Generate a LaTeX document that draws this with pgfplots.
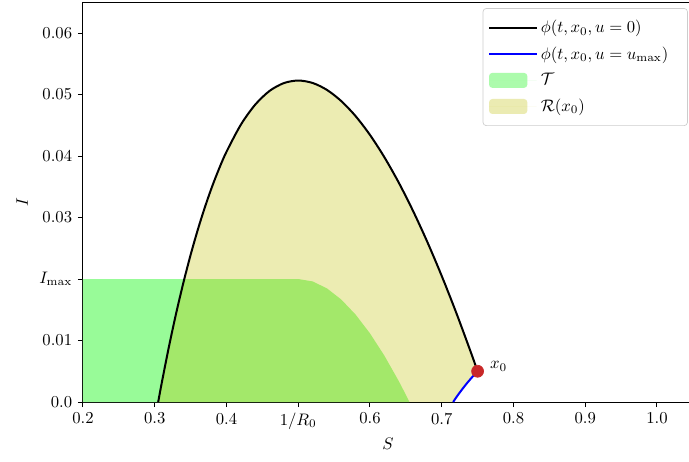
\documentclass[border=0pt]{standalone}
\usepackage{pgfplots}
\pgfplotsset{compat=1.18}
\definecolor{palegreen}{RGB}{152,251,152}
\definecolor{ycol}{RGB}{191,191,0}
\definecolor{dotred}{RGB}{200,40,40}
\pgfplotsset{
  lineleg/.style={legend image code/.code={\draw[##1] (0pt,0pt) -- (23pt,0pt); \path (0pt,0pt) -- (28.5pt,0pt);}},
  patchleg/.style={legend image code/.code={\fill[##1] (0pt,-4.5pt) rectangle (23pt,4.5pt); \path (0pt,0pt) -- (28.5pt,0pt);}},
}
\begin{document}
\begin{tikzpicture}
\useasboundingbox (-49.8pt,-35.4pt) rectangle (363.6pt,241.2pt);
\begin{axis}[
  at={(0pt,0pt)}, anchor=south west,
  scale only axis, width=365.9pt, height=239.85pt,
  xmin=0.2, xmax=1.05, ymin=0, ymax=0.065,
  axis line style={line width=0.6pt},
  tick align=outside, tick pos=left,
  major tick length=3pt,
  every tick/.style={black, line width=0.6pt},
  xtick={0.2,0.3,0.4,0.5,0.6,0.7,0.8,0.9,1.0},
  xticklabels={0.2,0.3,0.4,$1/R_0$,0.6,0.7,0.8,0.9,1.0},
  ytick={0,0.01,0.02,0.03,0.04,0.05,0.06},
  yticklabels={0.0,0.01,$I_{\max}$,0.03,0.04,0.05,0.06},
  scaled y ticks=false,
  xlabel={$S$}, ylabel={$I$},
  xlabel style={yshift=2pt},
  legend cell align=left,
  legend style={at={(1,1)}, anchor=north east, xshift=-3pt, yshift=-3.5pt,
    draw=black!20, rounded corners=2pt, fill=white, fill opacity=0.8, text opacity=1,
    row sep=3pt, inner xsep=3pt, inner ysep=5pt},
]
\addlegendimage{black, line width=1.2pt, lineleg}
\addlegendentry{$\phi(t,x_0,u=0)$}
\addlegendimage{blue, line width=1.2pt, lineleg}
\addlegendentry{$\phi(t,x_0,u=u_{\max})$\rule{6.5pt}{0pt}}
\addlegendimage{fill=palegreen, draw=none, patchleg}
\addlegendentry{$\mathcal{T}$}
\addlegendimage{fill=ycol, fill opacity=0.3, draw=none, patchleg}
\addlegendentry{$\mathcal{R}(x_0)$}

% target set T
\addplot[forget plot, fill=palegreen, draw=none] coordinates {
(0.2,0) (0.2,0.02) (0.5,0.02) (0.52,0.01961) (0.54,0.01848) (0.56,0.01666)
(0.58,0.01421) (0.60,0.01116) (0.62,0.00755) (0.64,0.00343) (0.65,0.00118) (0.655,0)
} -- cycle;

% reachable set R(x0)
\addplot[forget plot, fill=ycol, fill opacity=0.3, draw=none] coordinates {
(0.3048,0) (0.31,0.00325) (0.32,0.00912) (0.33,0.01451) (0.34,0.01943) (0.35,0.02393)
(0.36,0.02801) (0.37,0.03171) (0.38,0.03505) (0.39,0.03803) (0.40,0.04069) (0.42,0.04509)
(0.44,0.04835) (0.46,0.05058) (0.48,0.05186) (0.50,0.05227) (0.52,0.05188) (0.54,0.05075)
(0.56,0.04893) (0.58,0.04648) (0.60,0.04343) (0.62,0.03982) (0.64,0.03570) (0.66,0.03108)
(0.68,0.02601) (0.70,0.02050) (0.72,0.01459) (0.74,0.00828) (0.75,0.005)
(0.745,0.00438) (0.74,0.00372) (0.735,0.00303) (0.73,0.00229) (0.725,0.00152) (0.72,0.00071) (0.716,0)
} -- cycle;

% initial point
\addplot[forget plot, only marks, mark=*, mark size=3.6pt, color=dotred] coordinates {(0.75,0.005)};

% trajectory u=0
\addplot[forget plot, black, line width=1.2pt, smooth] coordinates {
(0.3048,0) (0.31,0.00325) (0.32,0.00912) (0.33,0.01451) (0.34,0.01943) (0.35,0.02393)
(0.36,0.02801) (0.37,0.03171) (0.38,0.03505) (0.39,0.03803) (0.40,0.04069) (0.42,0.04509)
(0.44,0.04835) (0.46,0.05058) (0.48,0.05186) (0.50,0.05227) (0.52,0.05188) (0.54,0.05075)
(0.56,0.04893) (0.58,0.04648) (0.60,0.04343) (0.62,0.03982) (0.64,0.03570) (0.66,0.03108)
(0.68,0.02601) (0.70,0.02050) (0.72,0.01459) (0.74,0.00828) (0.75,0.005)
};

% trajectory u=umax
\addplot[forget plot, blue, line width=1.2pt] coordinates {
(0.75,0.005) (0.745,0.00438) (0.74,0.00372) (0.735,0.00303) (0.73,0.00229) (0.725,0.00152) (0.72,0.00071) (0.716,0)
};

\node[anchor=west, inner sep=0pt] at (axis cs:0.767,0.0058) {$x_0$};
\end{axis}
\end{tikzpicture}
\end{document}
